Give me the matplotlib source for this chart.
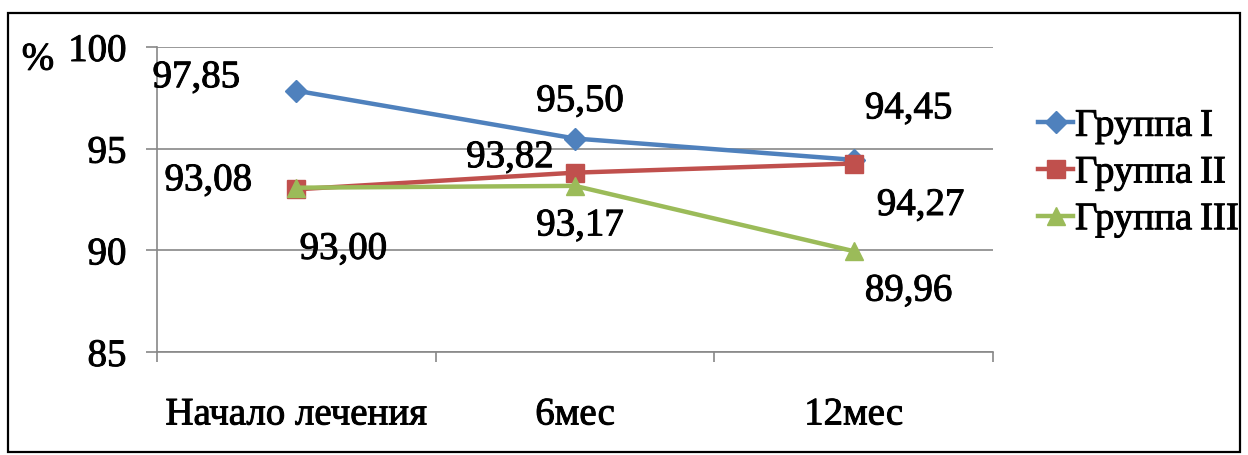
import matplotlib
matplotlib.use("Agg")
import matplotlib.pyplot as plt
import matplotlib.patheffects as pe
from matplotlib.patches import Rectangle

categories = ["Начало лечения", "6мес", "12мес"]
group1 = [97.85, 95.50, 94.45]
group2 = [93.00, 93.82, 94.27]
group3 = [93.08, 93.17, 89.96]
series_names = ["Группа\u2009I", "Группа\u2009II", "Группа\u2009III"]

# label offsets in pixels from each point (dx, dy up)
offs1 = [(-100, 13), (5, 37), (55, 51)]
offs2 = [(47, -60), (-65, 15), (67, -42)]
offs3 = [(-88, 7), (5, -40), (55, -40)]

plt.rcParams["font.family"] = ["Liberation Serif", "DejaVu Serif"]
FS = 28
# slightly heavier strokes, the original text looks thick
heavy = [pe.withStroke(linewidth=0.7, foreground="black")]

fig = plt.figure(figsize=(12.48, 4.55), dpi=100)
ax = fig.add_axes([157 / 1248, 1 - 352 / 455, (993 - 157) / 1248, (352 - 47) / 455])

colors = ["#4F81BD", "#C0504D", "#9BBB59"]
markers = ["D", "s", "^"]
msizes = [11, 13, 13]
x = list(range(len(categories)))
for vals, name, c, m, ms, offs in zip([group1, group2, group3], series_names,
                                       colors, markers, msizes, [offs1, offs2, offs3]):
    ax.plot(x, vals, color=c, marker=m, markersize=ms, linewidth=3.2, label=name, zorder=3)
    for xi, v, (dx, dy) in zip(x, vals, offs):
        ax.annotate(f"{v:.2f}".replace(".", ","), (xi, v), xytext=(dx, dy),
                    textcoords="offset pixels", ha="center", va="center", fontsize=FS,
                    path_effects=heavy)

ax.set_xlim(-0.5, 2.5)
ax.set_ylim(85, 100)
ax.set_yticks([85, 90, 95, 100])
ax.tick_params(axis="y", labelsize=FS, length=8, color="#888888", width=1.2, pad=14)
ax.set_xticks([-0.5, 0.5, 1.5, 2.5])
ax.set_xticklabels([])
ax.set_xticks(x, minor=True)
ax.set_xticklabels(categories, minor=True)
ax.tick_params(axis="x", which="major", length=7, color="#888888", width=1.2)
ax.tick_params(axis="x", which="minor", length=0, labelsize=FS, pad=32)
ax.grid(axis="y", color="#888888", linewidth=1.2)
for s in ["top", "right"]:
    ax.spines[s].set_visible(False)
ax.spines["left"].set_color("#888888")
ax.spines["bottom"].set_color("#888888")
ax.spines["left"].set_linewidth(1.2)
ax.spines["bottom"].set_linewidth(1.2)
for t in ax.get_yticklabels() + ax.get_xticklabels(minor=True):
    t.set_path_effects(heavy)

fig.text(38 / 1248, 1 - 60 / 455, "%", fontsize=FS, ha="center", va="center",
         path_effects=heavy)

leg = ax.legend(loc="center left", bbox_to_anchor=(1038 / 1248, 1 - 173 / 455),
                bbox_transform=fig.transFigure, frameon=False, fontsize=FS,
                handlelength=0.9, handletextpad=0.05, labelspacing=0.25, borderpad=0,
                borderaxespad=0)
for t in leg.get_texts():
    t.set_path_effects(heavy)

fig.patches.append(Rectangle((8 / 1248, 1 - 452 / 455), (1240 - 8) / 1248, (452 - 13) / 455,
                             transform=fig.transFigure, fill=False, edgecolor="black",
                             linewidth=1.6))

fig.savefig("out.png", dpi=100)
